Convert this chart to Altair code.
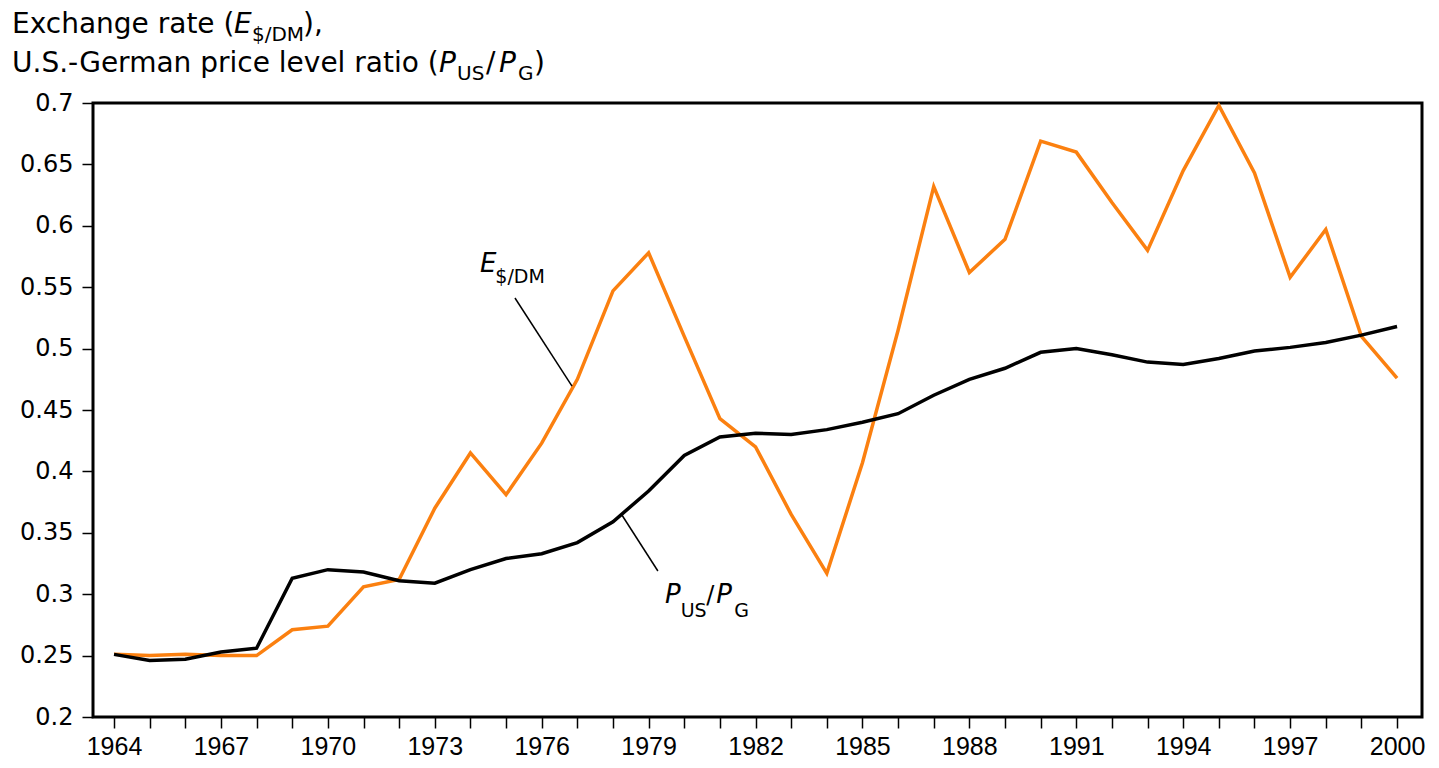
import altair as alt
import pandas as pd

# ---- data ----
years = list(range(1964, 2001))
exchange_rate = [0.251, 0.250, 0.251, 0.250, 0.250,
                 0.271, 0.274, 0.306, 0.312, 0.370,
                 0.415, 0.381, 0.423, 0.475, 0.547,
                 0.578, 0.510, 0.443, 0.420, 0.365,
                 0.317, 0.407, 0.515, 0.632, 0.562,
                 0.589, 0.669, 0.660, 0.619, 0.580,
                 0.645, 0.698, 0.643, 0.558, 0.597,
                 0.510, 0.476]
price_ratio = [0.251, 0.246, 0.247, 0.253, 0.256,
               0.313, 0.320, 0.318, 0.311, 0.309,
               0.320, 0.329, 0.333, 0.342, 0.359,
               0.384, 0.413, 0.428, 0.431, 0.430,
               0.434, 0.440, 0.447, 0.462, 0.475,
               0.484, 0.497, 0.500, 0.495, 0.489,
               0.487, 0.492, 0.498, 0.501, 0.505,
               0.511, 0.518]
x_ticks = years
y_ticks = [0.2, 0.25, 0.3, 0.35, 0.4, 0.45, 0.5, 0.55, 0.6, 0.65, 0.7]

# annotation anchors (data coordinates)
e_leader_year = [1975.25, 1976.85]
e_leader_val = [0.5412, 0.4695]
p_leader_year = [1978.25, 1979.26]
p_leader_val = [0.3645, 0.3189]

W, H = 1329, 614
FONT = "DejaVu Sans"
ORANGE = "#fb8010"

x_scale = alt.Scale(domain=[1963.41, 2000.7], nice=False, zero=False)
y_scale = alt.Scale(domain=[0.2, 0.7], nice=False, zero=False)

X_AXIS = alt.Axis(values=x_ticks, format="d",
                  labelExpr="(datum.value - 1964) % 3 == 0 ? datum.label : ''",
                  labelFont="Liberation Sans", labelFontSize=25,
                  labelPadding=6, tickSize=11,
                  labelFlush=False, labelOverlap=False, labelBound=False,
                  title=None)
Y_AXIS = alt.Axis(values=y_ticks, format=".2~f", labelFont=FONT, labelFontSize=24,
                  labelPadding=9, tickSize=11, title=None, labelOverlap=False,
                  labelBound=False, labelFlush=False)


def xq(field):
    return alt.X(f"{field}:Q", scale=x_scale, axis=X_AXIS)


def yq(field):
    return alt.Y(f"{field}:Q", scale=y_scale, axis=Y_AXIS)


df = pd.DataFrame({"year": years, "E": exchange_rate, "P": price_ratio})

orange = alt.Chart(df).mark_line(color=ORANGE, strokeWidth=3.5).encode(
    x=xq("year"), y=yq("E"))
black = alt.Chart(df).mark_line(color="black", strokeWidth=3.5).encode(
    x=xq("year"), y=yq("P"))

lead_df = pd.DataFrame({"x": [e_leader_year[0], p_leader_year[0]],
                        "x2": [e_leader_year[1], p_leader_year[1]],
                        "y": [e_leader_val[0], p_leader_val[0]],
                        "y2": [e_leader_val[1], p_leader_val[1]]})
leaders = alt.Chart(lead_df).mark_rule(color="black", strokeWidth=1.5).encode(
    x=xq("x"), x2="x2:Q", y=yq("y"), y2="y2:Q")


def data_text(txt, yr, val, size, italic=False):
    d = pd.DataFrame({"t": [txt], "x": [yr], "y": [val]})
    kw = dict(font=FONT, fontSize=size, align="left", baseline="alphabetic", color="black")
    if italic:
        kw["fontStyle"] = "italic"
    return alt.Chart(d).mark_text(**kw).encode(x=xq("x"), y=yq("y"), text="t:N")


def px_text(txt, px, py, size, italic=False):
    d = pd.DataFrame({"t": [txt]})
    kw = dict(font=FONT, fontSize=size, align="left", baseline="alphabetic", color="black")
    if italic:
        kw["fontStyle"] = "italic"
    return alt.Chart(d).mark_text(**kw).encode(
        x=alt.value(px - 93), y=alt.value(py - 103), text="t:N")


labels = [
    data_text("E", 1974.27, 0.5624, 26, True),
    data_text("$/DM", 1974.70, 0.5534, 19),
    data_text("P", 1979.46, 0.2928, 26, True),
    data_text("US", 1979.90, 0.2814, 19),
    data_text("/", 1980.62, 0.2928, 24),
    data_text("P", 1980.90, 0.2928, 26, True),
    data_text("G", 1981.40, 0.2814, 19),
]

title = [
    px_text("Exchange rate (", 12, 33, 28),
    px_text("E", 234, 33, 28, True),
    px_text("$/DM", 252, 41, 20),
    px_text("),", 303, 33, 28),
    px_text("U.S.-German price level ratio (", 12, 72, 28),
    px_text("P", 439, 72, 28, True),
    px_text("US", 457, 80, 20),
    px_text("/", 486, 72, 28),
    px_text("P", 499, 72, 28, True),
    px_text("G", 518, 80, 20),
    px_text(")", 534, 72, 28),
]

chart = alt.layer(orange, black, leaders, *labels, *title).properties(
    width=W, height=H,
    autosize=alt.AutoSizeParams(type="none"),
    padding={"left": 85, "top": 95, "right": 9, "bottom": 43},
    background="white",
).configure_view(stroke="black", strokeWidth=3).configure_axis(
    domain=False, grid=False, tickColor="black", tickWidth=1.5, labelColor="black"
)

chart.save("out.html", embed_options={"renderer": "svg", "actions": False})
